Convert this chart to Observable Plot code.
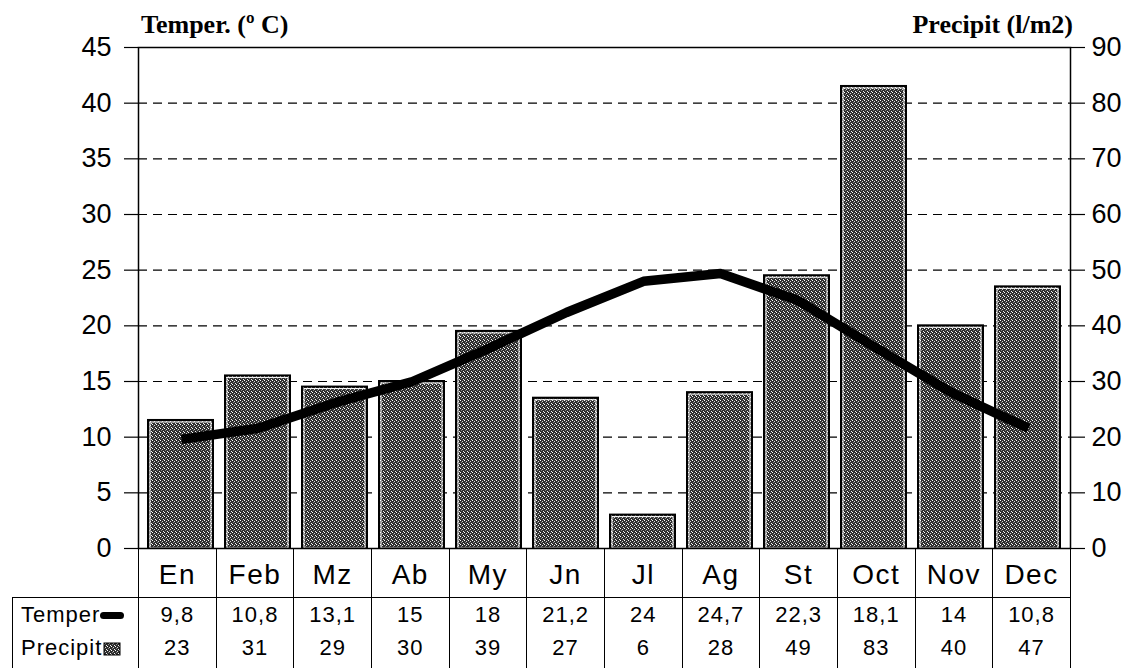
<!DOCTYPE html>
<html>
<head>
<meta charset="utf-8">
<script src="https://cdn.jsdelivr.net/npm/d3@7"></script>
<script src="https://cdn.jsdelivr.net/npm/@observablehq/plot@0.6"></script>
<style>
  body { margin: 0; background: #fff; }
  #wrap { position: relative; width: 1132px; height: 668px; overflow: hidden; background: #fff; font-family: "Liberation Sans", Arial, sans-serif; }
  #wrap svg { position: absolute; left: 0; top: 0; }
  .title { position: absolute; top: 10px; font-family: "Liberation Serif", "Times New Roman", serif; font-weight: bold; font-size: 26px; color: #000; white-space: nowrap; }
  #tbl { position: absolute; left: 12px; top: 548px; border-collapse: collapse; table-layout: fixed; }
  #tbl td { padding: 0; text-align: center; color: #000; }
  #tbl tr.m td { height: 49px; font-size: 28px; padding-top: 6px; box-sizing: border-box; letter-spacing: 1.5px; }
  #tbl tr.t td { height: 34px; font-size: 22px; letter-spacing: 1px; border-top: 1.5px solid #000; }
  #tbl tr.p td { height: 40px; font-size: 22px; letter-spacing: 1px; vertical-align: top; padding-top: 3px; }
  #tbl td.c { border-left: 1.5px solid #000; border-right: 1.5px solid #000; }
  #tbl td.lab { text-align: left; font-size: 22px; letter-spacing: 0.8px; padding-left: 8px; border-left: 1.5px solid #000; white-space: nowrap; }
</style>
</head>
<body>
<div id="wrap">
  <div class="title" style="left:141px;">Temper. (º C)</div>
  <div class="title" style="right:59px;">Precipit (l/m2)</div>
</div>
<script>
const months = ["En", "Feb", "Mz", "Ab", "My", "Jn", "Jl", "Ag", "St", "Oct", "Nov", "Dec"];
const temper = [9.8, 10.8, 13.1, 15, 18, 21.2, 24, 24.7, 22.3, 18.1, 14, 10.8];
const precip = [23, 31, 29, 30, 39, 27, 6, 28, 49, 83, 40, 47];
const tempTicks = [0, 5, 10, 15, 20, 25, 30, 35, 40, 45];
const precipTicks = [0, 10, 20, 30, 40, 50, 60, 70, 80, 90];
const gridPrecip = [10, 20, 30, 40, 50, 60, 70, 80];

const data = months.map((m, i) => ({month: m, temp: temper[i], precip: precip[i]}));

const W = 1132, H = 560;
const common = {width: W, height: H, marginTop: 47, marginBottom: 12, marginLeft: 138, marginRight: 62};
const styleBase = {fontFamily: "'Liberation Sans', Arial, sans-serif", fontSize: "27px", color: "#000", background: "transparent", overflow: "visible"};

// Bars (precipitation, right axis)
const barPlot = Plot.plot({
  ...common,
  style: styleBase,
  x: {type: "band", domain: months, paddingInner: 0.15, paddingOuter: 0.075, axis: null},
  y: {domain: [0, 90], axis: null},
  marks: [
    Plot.ruleY(gridPrecip, {stroke: "#000", strokeWidth: 1.2, strokeDasharray: "9,6"}),
    Plot.barY(data, {x: "month", y: "precip", fill: "url(#pat)", stroke: "#000", strokeWidth: 2}),
    Plot.barY(data, {x: "month", y: "precip", fill: "none", stroke: "#fff", strokeWidth: 1, insetLeft: 2, insetRight: 2, insetTop: 2}),
    Plot.axisY(precipTicks, {anchor: "right", tickSize: 14, tickPadding: 7, strokeWidth: 1.2, label: null, fontSize: 27})
  ]
});
const defs = document.createElementNS("http://www.w3.org/2000/svg", "defs");
const patInner = `<rect width="4" height="4" fill="#2e2e2e"/>
  <rect x="0" y="0" width="1" height="1" fill="#fff"/>
  <rect x="2" y="1" width="1" height="1" fill="#d8d8d8"/>
  <rect x="1" y="2" width="1" height="1" fill="#8a8a8a"/>
  <rect x="3" y="3" width="1" height="1" fill="#f0f0f0"/>`;
defs.innerHTML = `<pattern id="pat" width="4" height="4" patternUnits="userSpaceOnUse">${patInner}</pattern>
<pattern id="pat2" width="4" height="4" patternUnits="userSpaceOnUse">${patInner}</pattern>`;
barPlot.prepend(defs);

// Line (temperature, left axis)
const linePlot = Plot.plot({
  ...common,
  style: styleBase,
  x: {type: "point", domain: months, padding: 0.5, axis: null},
  y: {domain: [0, 45], axis: null},
  marks: [
    Plot.frame({stroke: "#000", strokeWidth: 1.5}),
    Plot.line(data, {x: "month", y: "temp", stroke: "#000", strokeWidth: 9.5, strokeLinecap: "butt", strokeLinejoin: "round"}),
    Plot.axisY(tempTicks, {anchor: "left", tickSize: 14, tickPadding: 13, strokeWidth: 1.2, label: null, fontSize: 27})
  ]
});

const wrap = document.getElementById("wrap");
wrap.appendChild(barPlot);
wrap.appendChild(linePlot);

// Data table below the chart
const fmt = v => String(v).replace(".", ",");
const step = (W - 138 - 62) / months.length;
let html = `<colgroup><col style="width:${138 - 12}px">` + months.map(() => `<col style="width:${step}px">`).join("") + `</colgroup>`;
html += `<tr class="m"><td></td>` + months.map(m => `<td class="c">${m}</td>`).join("") + `</tr>`;
html += `<tr class="t"><td class="lab">Temper<svg width="24" height="10" style="position:static;vertical-align:middle;margin-left:0px"><rect x="0" y="1" width="24" height="7" rx="3.5" fill="#000"/></svg></td>` +
  temper.map(v => `<td class="c">${fmt(v)}</td>`).join("") + `</tr>`;
html += `<tr class="p"><td class="lab">Precipit<svg width="18" height="14" style="position:static;vertical-align:-1px;margin-left:1px"><rect x="1" y="1" width="16" height="12" fill="url(#pat2)" stroke="#000" stroke-width="1"/></svg></td>` +
  precip.map(v => `<td class="c">${v}</td>`).join("") + `</tr>`;
const tbl = document.createElement("table");
tbl.id = "tbl";
tbl.style.width = (W - 62 - 12) + "px";
tbl.innerHTML = html;
wrap.appendChild(tbl);
</script>
</body>
</html>
